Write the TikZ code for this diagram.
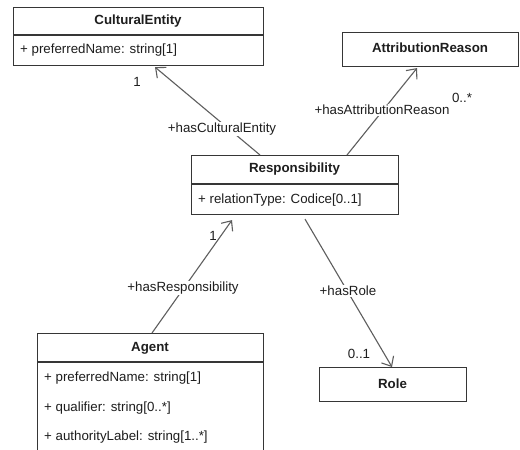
\documentclass[tikz,border=0pt]{standalone}
\usepackage{fontspec}
\setmainfont{Liberation Sans}
\usetikzlibrary{arrows.meta}
\definecolor{boxcol}{HTML}{363636}
\definecolor{linecol}{HTML}{5E5E5E}
\definecolor{txtcol}{HTML}{1E1E1E}
\tikzset{
  classbox/.style={draw=boxcol, line width=1.1pt, rectangle, anchor=north west, inner sep=0pt},
  divider/.style={draw=boxcol, line width=1.1pt},
  ctitle/.style={font=\fontsize{13.3}{16}\selectfont\bfseries, text=txtcol, inner sep=0pt},
  cattr/.style={font=\fontsize{13.3}{16}\selectfont, text=txtcol, anchor=west, inner sep=0pt},
  assoc/.style={draw=linecol, line width=1.1pt, -{Straight Barb[length=8pt,width=14pt,line width=1.1pt]}},
  lbl/.style={font=\fontsize{13.3}{16}\selectfont, text=txtcol, fill=white, inner sep=1pt},
  mult/.style={font=\fontsize{13.3}{16}\selectfont, text=txtcol, inner sep=0pt},
}
\begin{document}
\begin{tikzpicture}[x=1pt, y=-1pt]
\clip (0,0) rectangle (520,450);
\fill[white] (0,0) rectangle (520,450);

% CulturalEntity
\node[classbox, minimum width=250pt, minimum height=58pt] (ce) at (13,7) {};
\draw[divider] (13,35) -- (263,35);
\node[ctitle] (cet) at (138,21) {CulturalEntity};
\node[cattr] (cea) at (20,50) {+ preferredName: string[1]};

% AttributionReason
\node[classbox, minimum width=176pt, minimum height=34pt] (ar) at (342,32) {};
\node[ctitle] (art) at (430,48) {AttributionReason};

% Responsibility
\node[classbox, minimum width=207pt, minimum height=59pt] (resp) at (191,155) {};
\draw[divider] (191,184) -- (398,184);
\node[ctitle] (respt) at (294.5,169.5) {Responsibility};
\node[cattr] (respa) at (198,200) {+ relationType: Codice[0..1]};

% Agent
\node[classbox, minimum width=226pt, minimum height=140pt] (ag) at (37,333) {};
\draw[divider] (37,362) -- (263,362);
\node[ctitle] (agt) at (150,348) {Agent};
\node[cattr] (aga1) at (44,378) {+ preferredName: string[1]};
\node[cattr] (aga2) at (44,408) {+ qualifier: string[0..*]};
\node[cattr] (aga3) at (44,437) {+ authorityLabel: string[1..*]};

% Role
\node[classbox, minimum width=147pt, minimum height=34pt] (role) at (319,367) {};
\node[ctitle] (rolet) at (392.5,384) {Role};

% connectors
\draw[assoc] ([xshift=69pt]resp.north west) -- ([xshift=142pt,yshift=-1pt]ce.south west);
\draw[assoc] ([xshift=156pt]resp.north west) -- ([xshift=75pt,yshift=-1pt]ar.south west);
\draw[assoc] ([xshift=115pt]ag.north west) -- ([xshift=41pt,yshift=-5pt]resp.south west);
\draw[assoc] ([xshift=114pt,yshift=-4pt]resp.south west) -- ([xshift=73pt]role.north west);

% labels
\node[lbl] (l1) at (222,129) {+hasCulturalEntity};
\node[mult] (m1) at (137,82) {1};
\node[lbl] (l2) at (382,110) {+hasAttributionReason};
\node[mult] (m2) at (462,98) {0..*};
\node[lbl] (l3) at (183,288) {+hasResponsibility};
\node[mult] (m3) at (213,236) {1};
\node[lbl] (l4) at (348,291) {+hasRole};
\node[mult] (m4) at (359,354) {0..1};
\end{tikzpicture}
\end{document}
